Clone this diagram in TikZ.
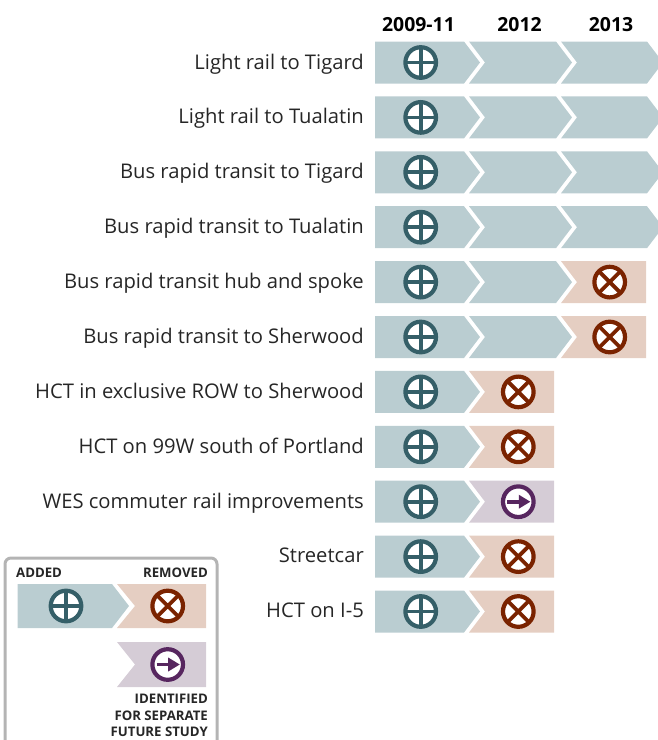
\documentclass[tikz,border=0pt]{standalone}
\usepackage{fontspec}
\setmainfont{Open Sans}
\definecolor{addfill}{HTML}{BACDD1}
\definecolor{addline}{HTML}{355F68}
\definecolor{remfill}{HTML}{E5CEC2}
\definecolor{remline}{HTML}{7A2300}
\definecolor{futfill}{HTML}{D5CCD6}
\definecolor{futline}{HTML}{57265F}
\definecolor{boxline}{HTML}{B4B4B4}
\tikzset{
  rowlabel/.style={anchor=base east,font=\fontsize{20.2}{24}\selectfont,text=black!85,inner sep=0pt},
  yearlabel/.style={anchor=base,font=\fontsize{19.4}{24}\selectfont\bfseries,inner sep=0pt},
  legendtext/.style={font=\fontsize{13.2}{16}\selectfont\bfseries,inner sep=0pt,text=black!85},
  ring/.style={line width=4.2pt,fill=white},
  bar/.style={line width=3.8pt},
}
% #1 centre x, #2 centre y
\newcommand{\addicon}[2]{%
  \draw[addline,ring] (#1,#2) circle (15.3);
  \draw[addline,bar] (#1-15,#2) -- (#1+15,#2) (#1,#2-15) -- (#1,#2+15);}
\newcommand{\remicon}[2]{%
  \draw[remline,ring] (#1,#2) circle (15.3);
  \draw[remline,bar] (#1-11,#2-11) -- (#1+11,#2+11) (#1-11,#2+11) -- (#1+11,#2-11);}
\newcommand{\futicon}[2]{%
  \draw[futline,ring] (#1,#2) circle (15.3);
  \draw[futline,bar] (#1-11,#2) -- (#1+3,#2);
  \fill[futline] (#1+0.5,#2-7) -- (#1+12,#2) -- (#1+0.5,#2+7) -- cycle;}
% first chevron  #1 top y
\newcommand{\chevA}[1]{\fill[addfill] (375,#1) -- (464,#1) -- (480,#1+21) -- (464,#1+42) -- (375,#1+42) -- cycle;}
\newcommand{\chevB}[1]{\fill[addfill] (469,#1) -- (556,#1) -- (572,#1+21) -- (556,#1+42) -- (469,#1+42) -- (485,#1+21) -- cycle;}
\newcommand{\chevC}[1]{\fill[addfill] (561,#1) -- (647,#1) -- (663,#1+21) -- (647,#1+42) -- (561,#1+42) -- (577,#1+21) -- cycle;}
\newcommand{\chevBend}[2]{\fill[#2] (469,#1) -- (554,#1) -- (554,#1+42) -- (469,#1+42) -- (485,#1+21) -- cycle;}
\newcommand{\chevCend}[1]{\fill[remfill] (561,#1) -- (646,#1) -- (646,#1+42) -- (561,#1+42) -- (577,#1+21) -- cycle;}
\begin{document}
\begin{tikzpicture}[x=1pt,y=-1pt]
\useasboundingbox (0,0) rectangle (658,740);
\clip (0,0) rectangle (658,740);
\node[yearlabel] (y1) at (418.5,31) {2009-11};
\node[yearlabel] (y2) at (519.5,31) {2012};
\node[yearlabel] (y3) at (611,31) {2013};
\foreach \i/\txt in {0/Light rail to Tigard,1/Light rail to Tualatin,2/Bus rapid transit to Tigard,3/Bus rapid transit to Tualatin,4/Bus rapid transit hub and spoke,5/Bus rapid transit to Sherwood,6/HCT in exclusive ROW to Sherwood,7/HCT on 99W south of Portland,8/WES commuter rail improvements,9/Streetcar,10/HCT on I-5}{
  \pgfmathsetmacro{\ty}{41.5+54.9*\i}
  \pgfmathsetmacro{\cy}{\ty+21}
  \pgfmathsetmacro{\by}{\ty+27.5-(\i>8?1:0)}
  \node[rowlabel] (lab\i) at (364,\by) {\txt};
  \chevA{\ty}
  \addicon{420.7}{\cy}
  \ifnum\i<6
    \chevB{\ty}
  \fi
  \ifnum\i<4
    \chevC{\ty}
  \fi
  \ifnum\i=4 \chevCend{\ty} \remicon{609.7}{\cy} \fi
  \ifnum\i=5 \chevCend{\ty} \remicon{609.7}{\cy} \fi
  \ifnum\i>5
    \ifnum\i=8
      \chevBend{\ty}{futfill} \futicon{518.3}{\cy}
    \else
      \chevBend{\ty}{remfill} \remicon{518.3}{\cy}
    \fi
  \fi
}
% legend
\draw[boxline,line width=3pt,rounded corners=6pt] (5,558) -- (217,558) -- (217,760) -- (5,760) -- cycle;
\node[legendtext,anchor=base west] (ladd) at (16,577) {ADDED};
\node[legendtext,anchor=base east] (lrem) at (208,577) {REMOVED};
\fill[addfill] (17.7,584) -- (112,584) -- (129,606) -- (112,628) -- (17.7,628) -- cycle;
\fill[remfill] (117,584) -- (206,584) -- (206,628) -- (117,628) -- (135,606) -- cycle;
\fill[futfill] (117,642) -- (206,642) -- (206,687) -- (117,687) -- (135,664.5) -- cycle;
\addicon{66}{606}
\remicon{167.7}{606}
\futicon{167.7}{664.5}
\node[legendtext,anchor=base east] (lid1) at (208,703) {IDENTIFIED};
\node[legendtext,anchor=base east] (lid2) at (208,720) {FOR SEPARATE};
\node[legendtext,anchor=base east] (lid3) at (208,736) {FUTURE STUDY};
\end{tikzpicture}
\end{document}
